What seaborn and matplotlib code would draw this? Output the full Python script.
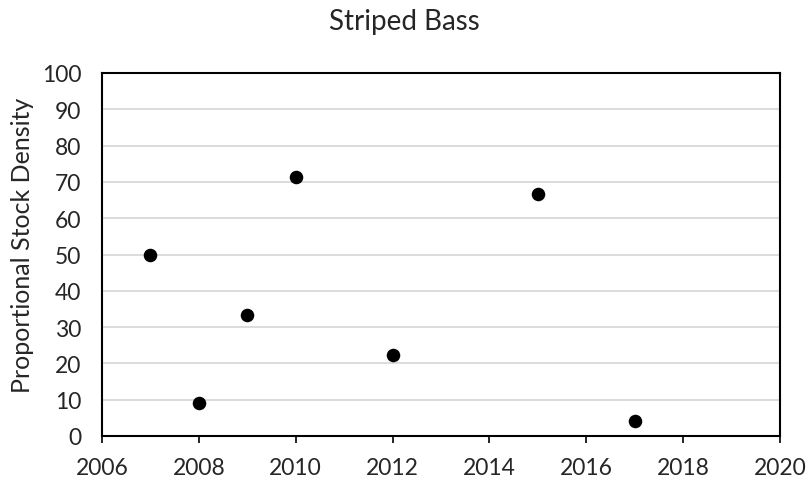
import pandas as pd
import seaborn as sns
import matplotlib.pyplot as plt

years = [2007, 2008, 2009, 2010, 2012, 2015, 2017]
psd = [50.0, 9.1, 33.3, 71.4, 22.2, 66.7, 4.2]
x_ticks = [2006, 2008, 2010, 2012, 2014, 2016, 2018, 2020]
y_ticks = [0, 10, 20, 30, 40, 50, 60, 70, 80, 90, 100]

df = pd.DataFrame({"year": years, "psd": psd})

sns.set_style("white")
plt.rcParams['font.family'] = ['Lato', 'DejaVu Sans']

fig = plt.figure(figsize=(8.08, 4.85), dpi=100)
ax = fig.add_axes([102 / 808, 1 - 437 / 485, (780 - 102) / 808, (437 - 74) / 485])

sns.scatterplot(data=df, x="year", y="psd", ax=ax, color="black", s=95,
                edgecolor="black", linewidth=0, zorder=3)

ax.set_xlim(2006, 2020)
ax.set_ylim(0, 100)
ax.set_xticks(x_ticks)
ax.set_yticks(y_ticks)
ax.yaxis.grid(True, color="#d9d9d9", linewidth=1.3)
ax.set_axisbelow(True)

for s in ax.spines.values():
    s.set_visible(True)
    s.set_color("black")
    s.set_linewidth(1.5)

ax.tick_params(axis="x", direction="out", length=5, width=1.2, color="black",
               labelsize=16.5, pad=10, bottom=True)
ax.tick_params(axis="y", length=0, labelsize=16.5, pad=15, left=False)

ax.set_xlabel("")
ax.set_ylabel("")
fig.text(23 / 808, 1 - 245 / 485, "Proportional Stock Density", fontsize=18,
         rotation=90, ha="center", va="center")
fig.text(0.5, 1 - 22 / 485, "Striped Bass", fontsize=20, ha="center", va="center")

fig.savefig("out.png", dpi=100)
